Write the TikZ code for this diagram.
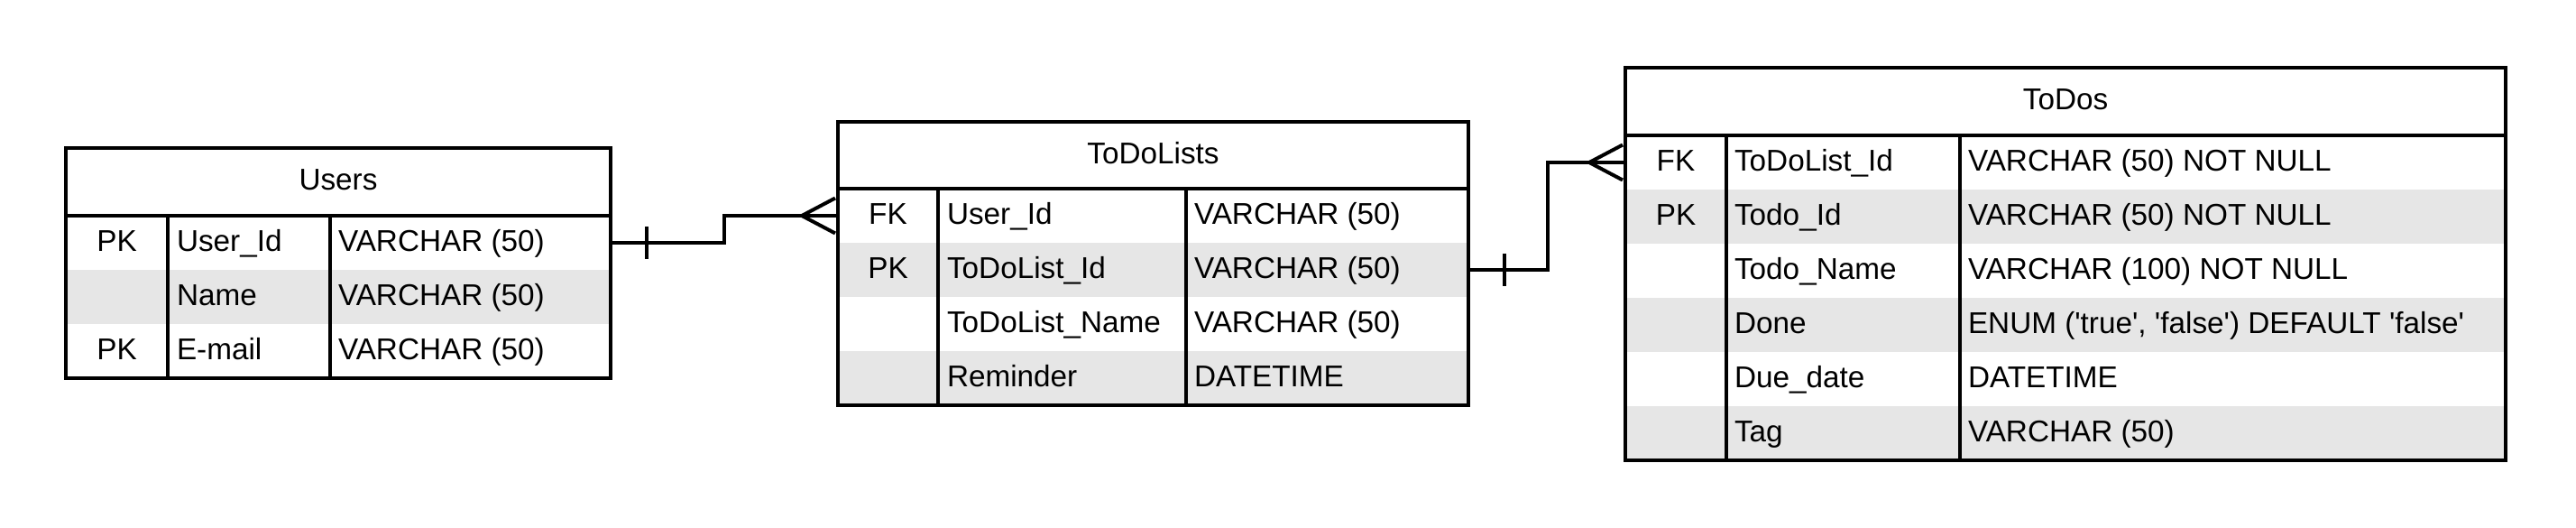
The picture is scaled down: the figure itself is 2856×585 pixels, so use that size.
\documentclass[tikz,border=0pt]{standalone}
\usepackage{fontspec}
\setmainfont{Liberation Sans}
\definecolor{rowgray}{HTML}{E6E6E6}
\tikzset{
  frame/.style={draw=black, line width=4pt},
  cell/.style={inner sep=0pt, outer sep=0pt, text height=24pt, text depth=5pt, font=\fontsize{33.3}{40}\selectfont},
  rowbg/.style={inner sep=0pt, outer sep=0pt, draw=none, minimum height=60pt},
  conn/.style={line width=4pt, draw=black},
}
\begin{document}
\begin{tikzpicture}[x=1pt,y=-1pt]
\useasboundingbox[fill=white] (0,0) rectangle (2856,585);

% ---------------- Users ----------------
\node[rowbg, minimum width=604pt] (u1) at (375,269) {};
\node[rowbg, minimum width=604pt, fill=rowgray] (u2) at (375,329) {};
\node[rowbg, minimum width=604pt] (u3) at (375,389) {};
\node[cell, frame, minimum width=604pt, minimum height=75pt] (users) at (375,201.5) {Users};
\draw[frame] (u1.north west) rectangle (u3.south east);
\draw[frame] (186,239) -- (186,419);
\draw[frame] (366,239) -- (366,419);
\node[cell] (u1k) at (129.5,269) {PK};
\node[cell, anchor=west] (u1n) at (196,269) {User\_Id};
\node[cell, anchor=west] (u1t) at (375,269) {VARCHAR (50)};
\node[cell, anchor=west] (u2n) at (196,329) {Name};
\node[cell, anchor=west] (u2t) at (375,329) {VARCHAR (50)};
\node[cell] (u3k) at (129.5,389) {PK};
\node[cell, anchor=west] (u3n) at (196,389) {E-mail};
\node[cell, anchor=west] (u3t) at (375,389) {VARCHAR (50)};

% ---------------- ToDoLists ----------------
\node[rowbg, minimum width=699pt] (l1) at (1278.5,239) {};
\node[rowbg, minimum width=699pt, fill=rowgray] (l2) at (1278.5,299) {};
\node[rowbg, minimum width=699pt] (l3) at (1278.5,359) {};
\node[rowbg, minimum width=699pt, fill=rowgray] (l4) at (1278.5,419) {};
\node[cell, frame, minimum width=699pt, minimum height=74pt] (lists) at (1278.5,172) {ToDoLists};
\draw[frame] (l1.north west) rectangle (l4.south east);
\draw[frame] (1040,209) -- (1040,449);
\draw[frame] (1315,209) -- (1315,449);
\node[cell] (l1k) at (984.5,239) {FK};
\node[cell, anchor=west] (l1n) at (1050,239) {User\_Id};
\node[cell, anchor=west] (l1t) at (1324,239) {VARCHAR (50)};
\node[cell] (l2k) at (984.5,299) {PK};
\node[cell, anchor=west] (l2n) at (1050,299) {ToDoList\_Id};
\node[cell, anchor=west] (l2t) at (1324,299) {VARCHAR (50)};
\node[cell, anchor=west] (l3n) at (1050,359) {ToDoList\_Name};
\node[cell, anchor=west] (l3t) at (1324,359) {VARCHAR (50)};
\node[cell, anchor=west] (l4n) at (1050,419) {Reminder};
\node[cell, anchor=west] (l4t) at (1324,419) {DATETIME};

% ---------------- ToDos ----------------
\node[rowbg, minimum width=976pt] (t1) at (2290,180) {};
\node[rowbg, minimum width=976pt, fill=rowgray] (t2) at (2290,240) {};
\node[rowbg, minimum width=976pt] (t3) at (2290,300) {};
\node[rowbg, minimum width=976pt, fill=rowgray] (t4) at (2290,360) {};
\node[rowbg, minimum width=976pt] (t5) at (2290,420) {};
\node[rowbg, minimum width=976pt, fill=rowgray] (t6) at (2290,480) {};
\node[cell, frame, minimum width=976pt, minimum height=75pt] (todos) at (2290,112.5) {ToDos};
\draw[frame] (t1.north west) rectangle (t6.south east);
\draw[frame] (1914,150) -- (1914,510);
\draw[frame] (2173,150) -- (2173,510);
\node[cell] (t1k) at (1858,180) {FK};
\node[cell, anchor=west] (t1n) at (1923,180) {ToDoList\_Id};
\node[cell, anchor=west] (t1t) at (2182,180) {VARCHAR (50) NOT NULL};
\node[cell] (t2k) at (1858,240) {PK};
\node[cell, anchor=west] (t2n) at (1923,240) {Todo\_Id};
\node[cell, anchor=west] (t2t) at (2182,240) {VARCHAR (50) NOT NULL};
\node[cell, anchor=west] (t3n) at (1923,300) {Todo\_Name};
\node[cell, anchor=west] (t3t) at (2182,300) {VARCHAR (100) NOT NULL};
\node[cell, anchor=west] (t4n) at (1923,360) {Done};
\node[cell, anchor=west] (t4t) at (2182,360) {ENUM (\textquotesingle true\textquotesingle, \textquotesingle false\textquotesingle) DEFAULT \textquotesingle false\textquotesingle};
\node[cell, anchor=west] (t5n) at (1923,420) {Due\_date};
\node[cell, anchor=west] (t5t) at (2182,420) {DATETIME};
\node[cell, anchor=west] (t6n) at (1923,480) {Tag};
\node[cell, anchor=west] (t6t) at (2182,480) {VARCHAR (50)};

% ---------------- Connectors ----------------
% Users -> ToDoLists
\draw[conn] (u1.east) -- ++(126,0) |- (l1.west);
\draw[conn] ([xshift=40pt,yshift=18pt]u1.east) -- ([xshift=40pt,yshift=-18pt]u1.east);
\draw[conn] ([xshift=-3pt,yshift=19.5pt]l1.west) -- ([xshift=-40pt]l1.west) -- ([xshift=-3pt,yshift=-19.5pt]l1.west);

% ToDoLists -> ToDos
\draw[conn] (l2.east) -- ++(88,0) |- (t1.west);
\draw[conn] ([xshift=40pt,yshift=18pt]l2.east) -- ([xshift=40pt,yshift=-18pt]l2.east);
\draw[conn] ([xshift=-3pt,yshift=19.5pt]t1.west) -- ([xshift=-40pt]t1.west) -- ([xshift=-3pt,yshift=-19.5pt]t1.west);
\end{tikzpicture}
\end{document}
